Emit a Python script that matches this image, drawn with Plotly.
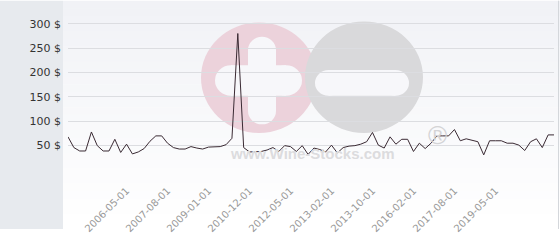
import plotly.graph_objects as go

dates = [
    "2005-03-01", "2005-04-01", "2005-05-01", "2005-06-01", "2005-07-01", "2005-09-01",
    "2005-10-01", "2005-12-01", "2006-01-01", "2006-03-01", "2006-05-01", "2006-07-01",
    "2006-09-01", "2006-11-01", "2007-01-01", "2007-03-01", "2007-05-01", "2007-08-01",
    "2007-10-01", "2007-12-01", "2008-03-01", "2008-05-01", "2008-08-01", "2008-10-01",
    "2009-01-01", "2009-04-01", "2009-07-01", "2009-10-01", "2010-02-01", "2010-05-01",
    "2010-09-01", "2010-12-01", "2011-02-01", "2011-05-01", "2011-08-01", "2011-10-01",
    "2012-01-01", "2012-03-01", "2012-05-01", "2012-06-01", "2012-07-01", "2012-08-01",
    "2012-10-01", "2012-11-01", "2012-12-01", "2013-02-01", "2013-03-01", "2013-04-01",
    "2013-05-01", "2013-06-01", "2013-07-01", "2013-09-01", "2013-10-01", "2014-01-01",
    "2014-04-01", "2014-07-01", "2014-10-01", "2015-02-01", "2015-07-01", "2016-02-01",
    "2016-05-01", "2016-08-01", "2016-11-01", "2017-01-01", "2017-03-01", "2017-05-01",
    "2017-08-01", "2017-12-01", "2018-03-01", "2018-06-01", "2018-09-01", "2018-12-01",
    "2019-03-01", "2019-05-01", "2019-09-01", "2020-01-01", "2020-05-01", "2020-09-01",
    "2021-01-01", "2021-05-01", "2021-09-01", "2022-01-01", "2022-05-01", "2022-09-01",
]

prices = [
    68, 46, 39, 39, 78, 50, 39, 39, 63, 36, 53, 33,
    37, 44, 59, 70, 70, 55, 46, 43, 43, 48, 45, 43,
    47, 47, 48, 52, 65, 280, 46, 37, 37, 38, 41, 46,
    38, 50, 48, 38, 50, 32, 45, 42, 37, 51, 35, 46,
    49, 50, 53, 58, 77, 51, 45, 68, 53, 63, 63, 38,
    55, 44, 55, 70, 70, 70, 83, 60, 64, 61, 58, 31,
    60, 60, 60, 55, 55, 51, 40, 58, 64, 46, 72, 72,
]

x_tick_labels = [
    "2006-05-01", "2007-08-01", "2009-01-01", "2010-12-01", "2012-05-01",
    "2013-02-01", "2013-10-01", "2016-02-01", "2017-08-01", "2019-05-01",
]

y_tick_values = [0, 50, 100, 150, 200, 250, 300]
y_tick_labels = ["", "50 $", "100 $", "150 $", "200 $", "250 $", "300 $"]

W, H = 560, 240
L, R, T, B = 68, 554, 14, 178


def px(x):
    return (x - L) / (R - L)


def py(y):
    return (B - y) / (B - T)


shapes = []

# background gradient of chart area
N = 30
c0 = (241, 242, 246)
c1 = (255, 255, 255)
for i in range(N):
    f = i / (N - 1)
    col = "rgb(%d,%d,%d)" % tuple(round(a + (b - a) * f) for a, b in zip(c0, c1))
    shapes.append(dict(type="rect", xref="paper", yref="paper", layer="below",
                       x0=px(63), x1=px(W), y0=py(i * H / N), y1=py((i + 1) * H / N + 0.5),
                       fillcolor=col, line=dict(width=0)))

# left panel
shapes.append(dict(type="rect", xref="paper", yref="paper", layer="below",
                   x0=px(0), x1=px(63), y0=py(0), y1=py(H),
                   fillcolor="#e7eaee", line=dict(width=0)))
# right border
shapes.append(dict(type="line", xref="paper", yref="paper", layer="below",
                   x0=px(558.5), x1=px(558.5), y0=py(0), y1=py(H),
                   line=dict(color="#d4d7db", width=1)))


def circle(x0, y0, x1, y1, color):
    shapes.append(dict(type="circle", xref="paper", yref="paper", layer="below",
                       x0=px(x0), x1=px(x1), y0=py(y1), y1=py(y0),
                       fillcolor=color, line=dict(width=0)))


def rect(x0, y0, x1, y1, color):
    shapes.append(dict(type="rect", xref="paper", yref="paper", layer="below",
                       x0=px(x0), x1=px(x1), y0=py(y1), y1=py(y0),
                       fillcolor=color, line=dict(width=0)))


def hbar(x0, y0, x1, y1, color):
    r = (y1 - y0) / 2
    rect(x0 + r, y0, x1 - r, y1, color)
    circle(x0, y0, x0 + 2 * r, y1, color)
    circle(x1 - 2 * r, y0, x1, y1, color)


def vbar(x0, y0, x1, y1, color):
    r = (x1 - x0) / 2
    rect(x0, y0 + r, x1, y1 - r, color)
    circle(x0, y0, x1, y0 + 2 * r, color)
    circle(x0, y1 - 2 * r, x1, y1, color)


# watermark logo
PINK = "rgb(236,210,219)"
GRAY = "rgb(217,217,219)"
WHITE = "rgb(247,247,250)"
circle(201, 23, 317, 139, PINK)
circle(305, 22, 423, 139, GRAY)
vbar(248, 38, 276, 130, WHITE)
hbar(215, 68, 302, 100, WHITE)
hbar(315, 73, 409, 100, WHITE)

annotations = [
    dict(text="www.Wine-Stocks.com", xref="paper", yref="paper", x=px(312), y=py(161),
         showarrow=False, font=dict(family="Liberation Sans", size=15, color="#dcdcde"),
         xanchor="center", yanchor="middle"),
    dict(text="®", xref="paper", yref="paper", x=px(437), y=py(141),
         showarrow=False, font=dict(family="Liberation Sans", size=26, color="#d4d4d6"),
         xanchor="center", yanchor="middle"),
]

fig = go.Figure()
fig.add_trace(go.Scatter(x=dates, y=prices, mode="lines",
                         line=dict(color="#3a2a33", width=1), hoverinfo="skip"))

fig.update_layout(
    width=W, height=H, autosize=False,
    margin=dict(l=L, r=W - R, t=T, b=H - B, pad=0),
    paper_bgcolor="#ffffff", plot_bgcolor="rgba(0,0,0,0)",
    showlegend=False, shapes=shapes, annotations=annotations,
    font=dict(family="DejaVu Sans"),
    xaxis=dict(type="category", range=[0, len(dates) - 1], showgrid=False, zeroline=False,
               showline=False, ticks="", tickvals=x_tick_labels, ticktext=x_tick_labels,
               tickangle=-45, tickfont=dict(size=10, color="#999999"), ticklabelstandoff=12),
    yaxis=dict(range=[0, 320], tickvals=y_tick_values, ticktext=y_tick_labels,
               showgrid=True, gridcolor="#dcdde1", gridwidth=1, zeroline=False,
               showline=False, ticks="", tickfont=dict(size=11, color="#333333"),
               ticklabelstandoff=6),
)

fig.update_annotations(font_weight="bold", selector=dict(text="www.Wine-Stocks.com"))

fig.write_html("out.html", config=dict(displayModeBar=False))
